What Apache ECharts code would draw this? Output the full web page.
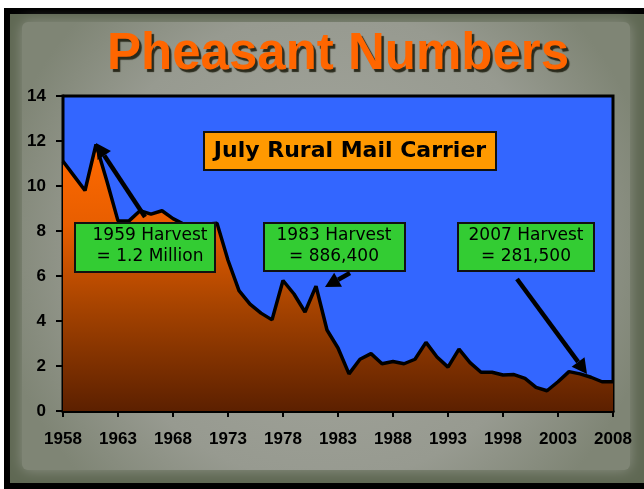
<!DOCTYPE html>
<html>
<head>
<meta charset="utf-8">
<script src="https://cdn.jsdelivr.net/npm/echarts@6/dist/echarts.min.js"></script>
<style>
html,body{margin:0;padding:0;background:#fff;}
#chart{width:644px;height:489px;}
</style>
</head>
<body>
<div id="chart"></div>
<script>
var years = [];
for (var y = 1958; y <= 2008; y++) years.push(String(y));
var pheasants = [
  11.1, 10.45, 9.8, 11.85, 10.2, 8.45, 8.45, 8.9, 8.75, 8.9,
  8.55, 8.3, 8.2, 8.3, 8.35, 6.7, 5.35, 4.75, 4.35, 4.05,
  5.8, 5.2, 4.4, 5.55, 3.6, 2.8, 1.65, 2.3, 2.55, 2.1,
  2.2, 2.1, 2.3, 3.05, 2.4, 1.95, 2.75, 2.15, 1.72, 1.72,
  1.6, 1.62, 1.45, 1.05, 0.9, 1.3, 1.75, 1.65, 1.5, 1.3,
  1.3
];
var titleText = 'Pheasant Numbers';
var subtitleText = 'July Rural Mail Carrier';
var notes = [
  {lines: ['1959 Harvest', '= 1.2 Million']},
  {lines: ['1983 Harvest', '= 886,400']},
  {lines: ['2007 Harvest', '= 281,500']}
];

var chart = echarts.init(document.getElementById('chart'), null, {renderer: 'canvas'});

function arrow(x1, y1, x2, y2) {
  var dx = x2 - x1, dy = y2 - y1;
  var len = Math.sqrt(dx*dx + dy*dy);
  var ux = dx/len, uy = dy/len;
  var hl = 15, hw = 8;
  var bx = x2 - ux*hl, by = y2 - uy*hl;
  return [
    {type:'line', z:100, shape:{x1:x1, y1:y1, x2:bx, y2:by}, style:{stroke:'#000', lineWidth:4.5}},
    {type:'polygon', z:100, shape:{points:[[x2,y2],[bx - uy*hw, by + ux*hw],[bx + uy*hw, by - ux*hw]]}, style:{fill:'#000'}}
  ];
}

function noteBox(x, y, w, h, lines, lx) {
  return [
    {type:'rect', z:90, shape:{x:x, y:y, width:w, height:h}, style:{fill:'#33cc33', stroke:'#111', lineWidth:2}},
    {type:'text', z:91, style:{x:lx, y:y + 13, text:lines[0], fill:'#000', font:'17px "DejaVu Sans"', textAlign:'center', textVerticalAlign:'middle'}},
    {type:'text', z:91, style:{x:lx, y:y + 34, text:lines[1], fill:'#000', font:'17px "DejaVu Sans"', textAlign:'center', textVerticalAlign:'middle'}}
  ];
}

var graphics = [
  {type:'rect', z:-100, silent:true, shape:{x:4, y:8, width:660, height:500}, style:{fill:'#000'}},
  {type:'rect', z:-99, silent:true, shape:{x:10, y:14, width:650, height:469}, style:{fill:'#5f6853'}},
  {type:'rect', z:-98, silent:true, shape:{x:22, y:22, width:608, height:448, r:6},
    style:{fill:{type:'radial', x:0.5, y:0.5, r:0.75, colorStops:[{offset:0, color:'#a6a89f'},{offset:0.7, color:'#979a90'},{offset:1, color:'#7f8575'}]},
      shadowBlur:14, shadowColor:'#8e9286'}},
  {type:'text', z:50, style:{x:338, y:55, text:titleText, fill:'#ff6600', font:'bold 51px "Liberation Sans", Arial',
    textAlign:'center', textVerticalAlign:'middle', textShadowColor:'rgba(30,30,15,0.9)', textShadowOffsetX:2.5, textShadowOffsetY:2.5, textShadowBlur:1}},
  {type:'rect', z:90, shape:{x:204, y:132, width:292, height:38}, style:{fill:'#ff9900', stroke:'#111', lineWidth:2}},
  {type:'text', z:91, style:{x:350, y:151, text:subtitleText, fill:'#000', font:'bold 22px "DejaVu Sans"', textAlign:'center', textVerticalAlign:'middle'}}
];
graphics = graphics.concat(noteBox(75, 223, 140, 49, notes[0].lines, 150));
graphics = graphics.concat(noteBox(264, 223, 141, 48, notes[1].lines, 334));
graphics = graphics.concat(noteBox(458, 223, 136, 48, notes[2].lines, 526));
graphics = graphics.concat(arrow(145, 217, 96, 143));
graphics = graphics.concat(arrow(350, 273, 325, 287));
graphics = graphics.concat(arrow(517, 279, 587, 374));

chart.setOption({
  animation: false,
  backgroundColor: '#fff',
  grid: {left: 63, right: 31, top: 96, bottom: 78, show: true, backgroundColor: '#3366ff', borderColor: '#000', borderWidth: 3, z: 1},
  xAxis: {
    type: 'category', data: years, boundaryGap: false,
    axisLine: {show: true, lineStyle: {color: '#000', width: 3}},
    axisTick: {show: true, interval: 4, length: 6, lineStyle: {color: '#000', width: 2}},
    axisLabel: {interval: 4, color: '#000', fontWeight: 'bold', fontSize: 17, fontFamily: '"Liberation Sans", Arial', margin: 20},
    splitLine: {show: false}
  },
  yAxis: {
    type: 'value', min: 0, max: 14, interval: 2,
    axisLine: {show: true, lineStyle: {color: '#000', width: 3}},
    axisTick: {show: true, length: 7, lineStyle: {color: '#000', width: 2}},
    axisLabel: {color: '#000', fontWeight: 'bold', fontSize: 17, fontFamily: '"Liberation Sans", Arial', margin: 17},
    splitLine: {show: true, lineStyle: {color: '#0a0a30', width: 1}}
  },
  series: [{
    type: 'line', data: pheasants, symbol: 'none', z: 5,
    lineStyle: {color: '#000', width: 3.5},
    areaStyle: {opacity: 1, color: {type: 'linear', x: 0, y: 0, x2: 0, y2: 1, colorStops: [
      {offset: 0, color: '#ff6a00'}, {offset: 0.3, color: '#e85e00'}, {offset: 0.6, color: '#a84400'}, {offset: 1, color: '#5c2000'}
    ]}}
  }],
  graphic: graphics
});
</script>
</body>
</html>
